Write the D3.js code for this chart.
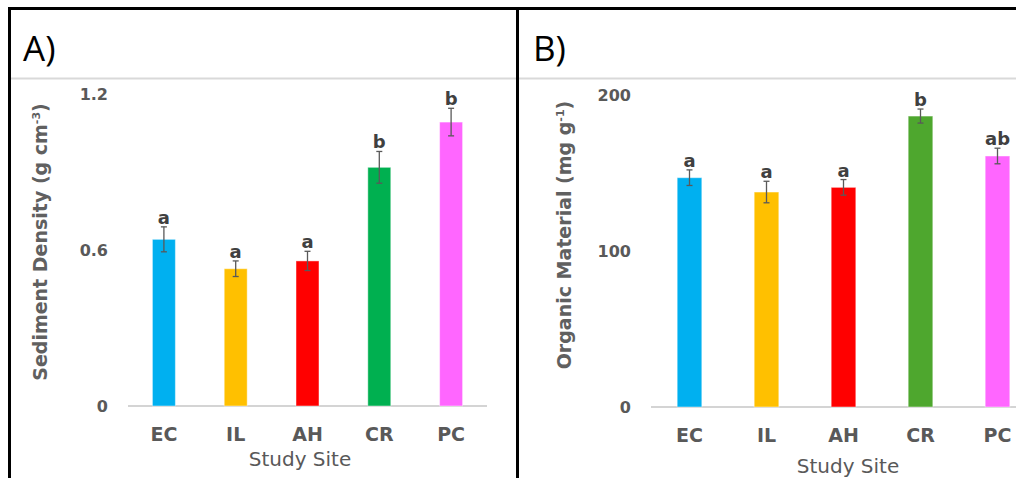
<!DOCTYPE html>
<html><head><meta charset="utf-8">
<script src="https://cdn.jsdelivr.net/npm/d3@7"></script>
<style>body{margin:0;background:#fff}svg{display:block}</style>
</head><body>
<svg id="c" width="1016" height="478"></svg>
<script>
const sites = ["EC","IL","AH","CR","PC"];
const densityValues = [0.641, 0.528, 0.558, 0.918, 1.092];
const densityErrors = [0.048, 0.030, 0.037, 0.061, 0.053];
const densityLetters = ["a","a","a","b","b"];
const densityTicks = [0, 0.6, 1.2];
const organicValues = [147, 137.8, 140.8, 186.5, 160.9];
const organicErrors = [5, 6.9, 5, 4.5, 5];
const organicLetters = ["a","a","a","b","ab"];
const organicTicks = [0, 100, 200];
const colorsA = ["#00b0f0","#ffc000","#ff0000","#00b050","#ff66ff"];
const colorsB = ["#00b0f0","#ffc000","#ff0000","#4ea72e","#ff66ff"];

const svg = d3.select("#c");
const fontF = "'DejaVu Sans', 'Open Sans', sans-serif";
const fontL = "'Open Sans', 'Noto Sans', sans-serif";

function panel(cfg){
  const g = svg.append("g");
  const x = d3.scaleBand().domain(sites).range([cfg.x0, cfg.x1]).paddingInner(0.68).paddingOuter(0.34);
  const y = d3.scaleLinear().domain([0, cfg.ymax]).range([cfg.y0, cfg.y1]);
  g.append("line").attr("x1", cfg.x0).attr("x2", cfg.lineEnd).attr("y1", y(0)).attr("y2", y(0))
    .attr("stroke", "#d4d4d4").attr("stroke-width", 2);
  const ya = d3.axisLeft(y).tickValues(cfg.ticks).tickSize(0).tickPadding(0).tickFormat(d => d3.format("")(d));
  const yg = g.append("g").attr("transform", `translate(${cfg.tickX},0)`).call(ya);
  yg.select(".domain").remove();
  yg.selectAll("text").attr("font-family", fontF).attr("font-weight", 700).attr("font-size", 16).attr("fill", "#595959");
  g.selectAll("rect.bar").data(sites).enter().append("rect")
    .attr("x", d => x(d)).attr("width", x.bandwidth())
    .attr("y", (d,i) => y(cfg.values[i])).attr("height", (d,i) => y(0) - y(cfg.values[i]))
    .attr("fill", (d,i) => cfg.colors[i]).attr("stroke", "rgba(255,255,255,0.45)").attr("stroke-width", 1);
  const eg = g.selectAll("g.err").data(sites).enter().append("g").attr("stroke", "#595959").attr("stroke-width", 1.3);
  eg.append("line").attr("x1", d => x(d)+x.bandwidth()/2).attr("x2", d => x(d)+x.bandwidth()/2)
    .attr("y1", (d,i) => y(cfg.values[i]+cfg.errors[i])).attr("y2", (d,i) => y(cfg.values[i]-cfg.errors[i]));
  [1,-1].forEach(s => {
    eg.append("line").attr("x1", d => x(d)+x.bandwidth()/2-3).attr("x2", d => x(d)+x.bandwidth()/2+3)
      .attr("y1", (d,i) => y(cfg.values[i]+s*cfg.errors[i])).attr("y2", (d,i) => y(cfg.values[i]+s*cfg.errors[i]));
  });
  g.selectAll("text.let").data(sites).enter().append("text")
    .attr("x", d => x(d)+x.bandwidth()/2).attr("y", (d,i) => y(cfg.values[i]+cfg.errors[i]) - 3)
    .attr("text-anchor", "middle").attr("font-family", fontF).attr("font-weight", 700).attr("font-size", 18)
    .attr("fill", "#404040").text((d,i) => cfg.letters[i]);
  g.selectAll("text.xl").data(sites).enter().append("text")
    .attr("x", d => x(d)+x.bandwidth()/2).attr("y", cfg.xlabY)
    .attr("text-anchor", "middle").attr("font-family", fontF).attr("font-weight", 700).attr("font-size", 19)
    .attr("fill", "#595959").text(d => d);
  g.append("text").attr("x", cfg.xtX).attr("y", cfg.xtY).attr("text-anchor", "middle")
    .attr("font-family", fontF).attr("font-size", 20).attr("fill", "#595959").text("Study Site");
  const yt = g.append("text").attr("transform", `translate(${cfg.ytX},${cfg.ytY}) rotate(-90)`)
    .attr("text-anchor", "middle").attr("font-family", fontF).attr("font-weight", 700).attr("font-size", 19)
    .attr("fill", "#606060");
  yt.append("tspan").text(cfg.ytitle[0]);
  yt.append("tspan").attr("font-size", 11).attr("dy", -7).text(cfg.ytitle[1]);
  yt.append("tspan").attr("dy", 7).text(cfg.ytitle[2]);
  g.append("text").attr("x", cfg.labX).attr("y", 61).attr("font-family", fontL).attr("font-size", 35)
    .attr("fill", "#000").text(cfg.label);
}

panel({x0:128, x1:487, lineEnd:487, y0:406, y1:94, ymax:1.2, ticks:densityTicks, tickX:108,
  values:densityValues, errors:densityErrors, letters:densityLetters, colors:colorsA,
  xlabY:441, xtX:300, xtY:466, ytX:47, ytY:242, ytitle:["Sediment Density (g cm","-3",")"], labX:23, label:"A)"});
panel({x0:651, x1:1036, lineEnd:1016, y0:407, y1:95, ymax:200, ticks:organicTicks, tickX:631,
  values:organicValues, errors:organicErrors, letters:organicLetters, colors:colorsB,
  xlabY:442, xtX:848, xtY:473, ytX:571, ytY:235, ytitle:["Organic Material (mg g","-1",")"], labX:533, label:"B)"});

svg.append("line").attr("x1", 8).attr("x2", 1016).attr("y1", 78.5).attr("y2", 78.5).attr("stroke", "#d9d9d9").attr("stroke-width", 2);
svg.append("line").attr("x1", 8).attr("x2", 1016).attr("y1", 8.5).attr("y2", 8.5).attr("stroke", "#000").attr("stroke-width", 3);
svg.append("line").attr("x1", 9.5).attr("x2", 9.5).attr("y1", 7).attr("y2", 478).attr("stroke", "#000").attr("stroke-width", 3);
svg.append("line").attr("x1", 517.5).attr("x2", 517.5).attr("y1", 7).attr("y2", 478).attr("stroke", "#000").attr("stroke-width", 3);
</script>
</body></html>
